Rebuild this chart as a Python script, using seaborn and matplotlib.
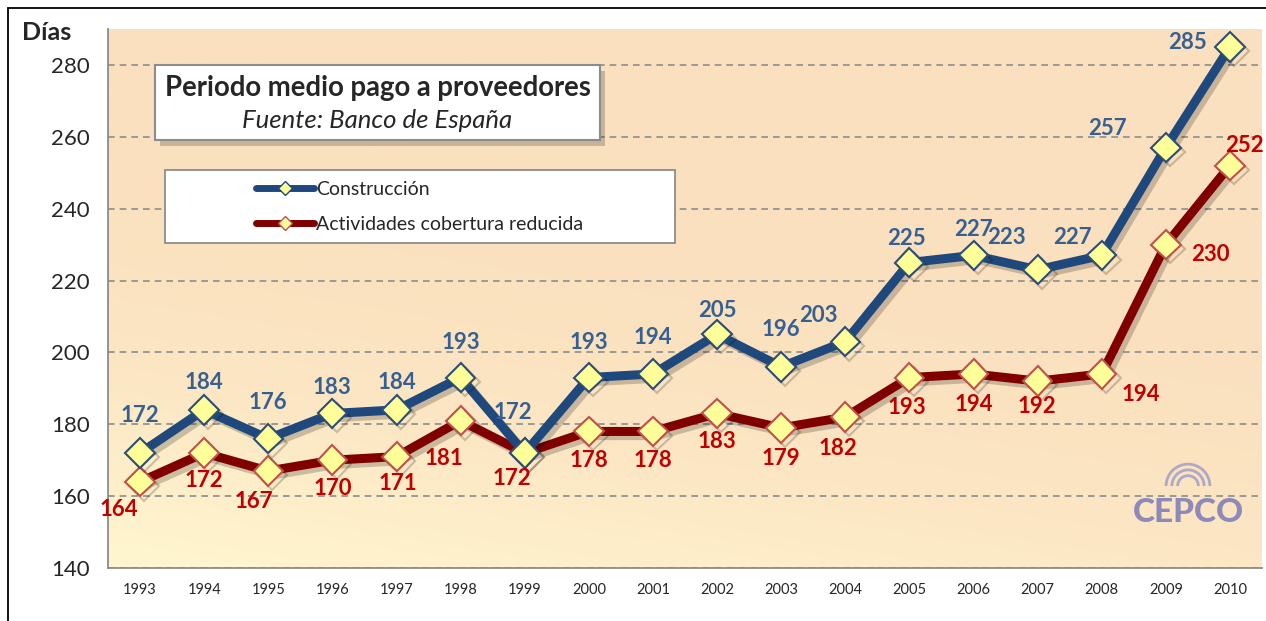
import numpy as np
import pandas as pd
import matplotlib
matplotlib.use("Agg")
import matplotlib.pyplot as plt
import matplotlib.patheffects as pe
from matplotlib.patches import Rectangle, Arc
from matplotlib.lines import Line2D
from matplotlib.colors import LinearSegmentedColormap
import seaborn as sns

# ── Data ───────────────────────────────────────────────────────────────────
years = [1993, 1994, 1995, 1996, 1997, 1998, 1999, 2000, 2001,
         2002, 2003, 2004, 2005, 2006, 2007, 2008, 2009, 2010]
construccion = [172, 184, 176, 183, 184, 193, 172, 193, 194,
                205, 196, 203, 225, 227, 223, 227, 257, 285]
actividades = [164, 172, 167, 170, 171, 181, 172, 178, 178,
               183, 179, 182, 193, 194, 192, 194, 230, 252]
serie_names = ["Construcción", "Actividades cobertura reducida"]

# label offsets (pixels) as placed in the original
off_blue = [(0, 38), (0, 27), (0, 36), (0, 26), (0, 27), (0, 35), (-12, 41), (0, 35), (0, 36),
            (0, 24), (0, 37), (-27, 26), (-3, 24), (0, 26), (-31, 32), (-29, 18), (-58, 19), (-42, 4)]
off_red = [(-21, -28), (0, -27), (-14, -31), (0, -28), (1, -27), (-17, -38), (-13, -25), (0, -29), (0, -29),
           (0, -28), (0, -31), (-7, -31), (-3, -30), (0, -31), (-1, -25), (39, -21), (45, -10), (14, 20)]

df = pd.DataFrame({
    "pos": list(range(len(years))) * 2,
    "dias": construccion + actividades,
    "serie": [serie_names[0]] * len(years) + [serie_names[1]] * len(years),
})

BLUE = "#1F497D"
RED = "#800000"
BLUE_TXT = "#376092"
RED_TXT = "#C00000"
YELLOW = "#FFFF99"

sns.set_style("white")
plt.rcParams["font.family"] = ["Lato", "DejaVu Sans"]

fig = plt.figure(figsize=(12.66, 6.21), dpi=100)
ax = fig.add_axes([108 / 1266, 1 - 568 / 621, 1154 / 1266, 539 / 621])

# background gradient (light yellow bottom-left -> peach top-right)
gx, gy = np.meshgrid(np.linspace(0, 1, 200), np.linspace(0, 1, 200))
grad = np.clip((gx * 0.35 + gy * 1.0) / 0.75, 0, 1)
cmap = LinearSegmentedColormap.from_list("bg", ["#FFF6CF", "#FCE6C3", "#FAE0BE"])
ax.imshow(grad, extent=(0, 1, 0, 1), transform=ax.transAxes, origin="lower",
          cmap=cmap, aspect="auto", zorder=0)

shadow = [pe.SimpleLineShadow(offset=(3, -3), shadow_color="black", alpha=0.2), pe.Normal()]

sub = df[df["serie"] == serie_names[0]]
sns.lineplot(data=sub, x="pos", y="dias", ax=ax, color=BLUE, lw=6.5, marker="D",
             markersize=15, markerfacecolor=YELLOW, markeredgecolor="#2C4D75",
             markeredgewidth=1.5, zorder=4, path_effects=shadow, legend=False)
sub = df[df["serie"] == serie_names[1]]
sns.lineplot(data=sub, x="pos", y="dias", ax=ax, color=RED, lw=6.5, marker="D",
             markersize=15, markerfacecolor=YELLOW, markeredgecolor="#C0504D",
             markeredgewidth=1.5, zorder=3, path_effects=shadow, legend=False)

for i, v in enumerate(construccion):
    ax.annotate(str(v), (i, v), xytext=off_blue[i], textcoords="offset pixels",
                ha="center", va="center", fontsize=16, fontweight="bold", color=BLUE_TXT, zorder=6)
for i, v in enumerate(actividades):
    ax.annotate(str(v), (i, v), xytext=off_red[i], textcoords="offset pixels",
                ha="center", va="center", fontsize=16, fontweight="bold", color=RED_TXT, zorder=6)

# axes
ax.set_xlim(-0.5, len(years) - 0.5)
ax.set_ylim(140, 290)
ax.set_yticks(range(140, 281, 20))
ax.set_xticks(range(len(years)))
ax.set_xticklabels(years, fontsize=10.5)
ax.set_xticks(np.arange(-0.5, len(years), 1), minor=True)
ax.tick_params(axis="x", which="major", length=0, pad=11)
ax.tick_params(axis="x", which="minor", length=6, color="#808080", width=1)
ax.tick_params(axis="y", length=7, color="#808080", width=1, labelsize=16, pad=6)
ax.set_xlabel("")
ax.set_ylabel("")
ax.yaxis.grid(True, linestyle=(0, (4, 3)), color="#8C8C8C", lw=1.2, zorder=1)
ax.set_axisbelow(True)
for s in ["top", "right"]:
    ax.spines[s].set_visible(False)
for s in ["left", "bottom"]:
    ax.spines[s].set_color("#8C8C8C")
    ax.spines[s].set_linewidth(1.3)

fig.text(47 / 1266, 1 - 32 / 621, "Días", fontsize=18, fontweight="bold", ha="center", va="center")

# title box
tb = (155 - 108) / 1154, 1 - (140 - 29) / 539, (600 - 155) / 1154, (140 - 65) / 539
ax.add_patch(Rectangle((tb[0] + 0.004, tb[1] - 0.012), tb[2], tb[3], transform=ax.transAxes,
                       facecolor="black", alpha=0.2, edgecolor="none", zorder=7))
ax.add_patch(Rectangle(tb[:2], tb[2], tb[3], transform=ax.transAxes, facecolor="white",
                       edgecolor="#8C8C8C", lw=1.5, zorder=8))
cx = tb[0] + tb[2] / 2
ax.text(cx, 1 - (88 - 29) / 539, "Periodo medio pago a proveedores", transform=ax.transAxes,
        ha="center", va="center", fontsize=19.8, fontweight="bold", zorder=9)
ax.text(cx, 1 - (121 - 29) / 539, "Fuente: Banco de España", transform=ax.transAxes,
        ha="center", va="center", fontsize=18.5, style="italic", zorder=9)

# legend box
lb = (165 - 108) / 1154, 1 - (243 - 29) / 539, (675 - 165) / 1154, (243 - 170) / 539
ax.add_patch(Rectangle(lb[:2], lb[2], lb[3], transform=ax.transAxes, facecolor="white",
                       edgecolor="#8C8C8C", lw=1.3, zorder=8))
handles = [
    Line2D([], [], color=BLUE, lw=5, solid_capstyle="round", marker="D", markersize=7,
           markerfacecolor=YELLOW, markeredgecolor=BLUE),
    Line2D([], [], color=RED, lw=5, solid_capstyle="round", marker="D", markersize=7,
           markerfacecolor=YELLOW, markeredgecolor="#C0504D"),
]
leg = ax.legend(handles, serie_names, loc="upper left", frameon=False, fontsize=14,
                bbox_to_anchor=((248 - 108) / 1154, 1 - (173 - 29) / 539),
                handlelength=3.0, handletextpad=0.1, labelspacing=0.95, borderaxespad=0)
leg.set_zorder(9)

# CEPCO watermark
lx, ly = 1 - (1262 - 1188) / 1154, 1 - (513 - 29) / 539
ax.text(lx, ly, "CEPCO", transform=ax.transAxes,
        ha="center", va="center", fontsize=24, fontweight="black", color="#7A7AB8", alpha=0.85, zorder=2)
for w in (0.018, 0.028, 0.038):
    ax.add_patch(Arc((lx, ly + 0.05), w, w * 1154 / 539, theta1=0, theta2=180, transform=ax.transAxes,
                     color="#9A9AC8", lw=2, alpha=0.8, zorder=2))

# outer frame
fig.add_artist(Rectangle((8 / 1266, -0.1), 1.2, 1 - 8 / 621 + 0.1, transform=fig.transFigure,
                         facecolor="none", edgecolor="black", lw=1.3))

fig.savefig("out.png", dpi=100)
